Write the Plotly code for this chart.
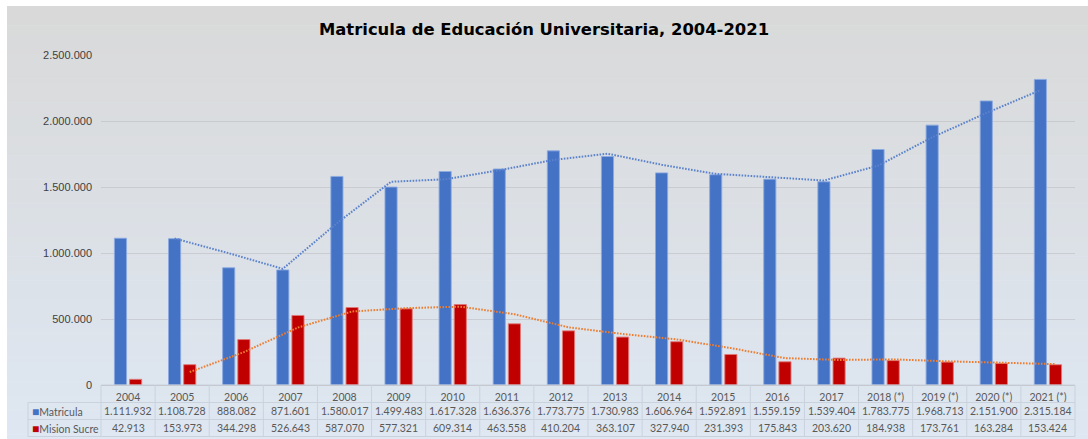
import plotly.graph_objects as go
import pandas as pd

years = ["2004", "2005", "2006", "2007", "2008", "2009", "2010", "2011", "2012",
         "2013", "2014", "2015", "2016", "2017", "2018 (*)", "2019 (*)", "2020 (*)", "2021 (*)"]
matricula = [1111932, 1108728, 888082, 871601, 1580017, 1499483, 1617328, 1636376, 1773775,
             1730983, 1606964, 1592891, 1559159, 1539404, 1783775, 1968713, 2151900, 2315184]
mision_sucre = [42913, 153973, 344298, 526643, 587070, 577321, 609314, 463558, 410204,
                363107, 327940, 231393, 175843, 203620, 184938, 173761, 163284, 153424]

BLUE = "#4472C4"
RED = "#C00000"
ORANGE = "#ED7D31"

# 2-period moving average trendlines (as in the original chart)
ma_mat = pd.Series(matricula).rolling(2).mean().tolist()
ma_suc = pd.Series(mision_sucre).rolling(2).mean().tolist()
ma_mat = [None if pd.isna(v) else v for v in ma_mat]
ma_suc = [None if pd.isna(v) else v for v in ma_suc]

W, H = 1088, 439
L, R, T, B = 101, 13, 55, 54
PW, PH = W - L - R, H - T - B
Y0 = H - B  # pixel y of axis
BARGAP = 0.44
idx = list(range(len(years)))
slot = (1 - BARGAP) / 2          # width of one bar slot in category units
pos_a = [i - slot / 2 for i in idx]  # centre of first bar in each group
pos_b = [i + slot / 2 for i in idx]  # centre of second bar in each group


def py(y):
    return (Y0 - y) / PH


def px(x):
    return (x - L) / PW


def fmt(v):
    return f"{v:,}".replace(",", ".")


fig = go.Figure()
fig.add_bar(x=idx, y=matricula, name="Matricula", marker_color=BLUE,
            marker_line=dict(color="rgba(140,170,225,0.9)", width=1))
fig.add_bar(x=idx, y=mision_sucre, name="Mision Sucre", marker_color=RED,
            marker_line=dict(color="rgba(225,120,120,0.9)", width=1))
fig.add_scatter(x=pos_a, y=ma_mat, mode="lines",
                line=dict(color="#5B82CC", width=2, dash="1.6px,1.4px"), showlegend=False,
                hoverinfo="skip")
fig.add_scatter(x=pos_b, y=ma_suc, mode="lines",
                line=dict(color=ORANGE, width=2, dash="1.6px,1.4px"), showlegend=False,
                hoverinfo="skip")

shapes = []
# gradient background
n = 90
top_c = (217, 217, 217)
bot_c = (222, 231, 242)
ytop, ybot = 6, H
for i in range(n):
    t = i / (n - 1)
    c = tuple(round(top_c[k] + (bot_c[k] - top_c[k]) * t) for k in range(3))
    y1 = ytop + (ybot - ytop) * i / n
    y2 = ytop + (ybot - ytop) * (i + 1) / n + 0.6
    shapes.append(dict(type="rect", xref="paper", yref="paper", layer="below",
                       x0=px(7), x1=px(W + 2), y0=py(y2), y1=py(y1),
                       fillcolor=f"rgb{c}", line=dict(width=0)))

# data table grid
GRID = "#c9d2dd"
row_lines = [Y0, 402.5, 419.5, 436.5]
for j, yy in enumerate(row_lines):
    x0 = L if j == 0 else 28
    shapes.append(dict(type="line", xref="paper", yref="paper", x0=px(x0), x1=px(W - R),
                       y0=py(yy), y1=py(yy), line=dict(color=GRID, width=1)))
ncat = len(years)
for i in range(ncat + 1):
    xx = L + PW * i / ncat
    shapes.append(dict(type="line", xref="paper", yref="paper", x0=px(xx), x1=px(xx),
                       y0=py(Y0), y1=py(436.5), line=dict(color=GRID, width=1)))
shapes.append(dict(type="line", xref="paper", yref="paper", x0=px(28), x1=px(28),
                   y0=py(402.5), y1=py(436.5), line=dict(color=GRID, width=1)))

annotations = []
TFONT = dict(family="Lato, Open Sans, sans-serif", size=10.5, color="#595959")
for i in range(ncat):
    annotations.append(dict(x=idx[i], y=py(411), xref="x", yref="paper", text=fmt(matricula[i]),
                            showarrow=False, font=TFONT, xanchor="center", yanchor="middle"))
    annotations.append(dict(x=idx[i], y=py(428), xref="x", yref="paper", text=fmt(mision_sucre[i]),
                            showarrow=False, font=TFONT, xanchor="center", yanchor="middle"))
annotations.append(dict(x=px(30), y=py(411), xref="paper", yref="paper",
                        text=f"<span style='color:{BLUE};font-size:12px'>■</span>Matricula",
                        showarrow=False, font=TFONT, xanchor="left", yanchor="middle"))
annotations.append(dict(x=px(30), y=py(428), xref="paper", yref="paper",
                        text=f"<span style='color:{RED};font-size:12px'>■</span>Mision Sucre",
                        showarrow=False, font=TFONT, xanchor="left", yanchor="middle"))

fig.update_layout(
    width=W, height=H,
    margin=dict(l=L, r=R, t=T, b=B),
    paper_bgcolor="white",
    plot_bgcolor="rgba(0,0,0,0)",
    separators=",.",
    barmode="group",
    bargap=BARGAP,
    bargroupgap=0.2,
    showlegend=False,
    title=dict(text="<b>Matricula de Educación Universitaria, 2004-2021</b>",
               x=0.5, xref="container", xanchor="center",
               y=1 - 29 / H, yref="container", yanchor="middle",
               font=dict(family="DejaVu Sans, sans-serif", size=16.4, color="#000000")),
    xaxis=dict(range=[-0.5, ncat - 0.5], tickmode="array", tickvals=idx, ticktext=years,
               showgrid=False, showline=True, linecolor="#c0c0c0", linewidth=1,
               ticks="", tickfont=TFONT, ticklabelstandoff=2, zeroline=False),
    yaxis=dict(range=[0, 2500000], dtick=500000, tickformat=",d", showgrid=True,
               gridcolor="rgba(180,180,185,0.45)", gridwidth=1, zeroline=False, showline=False,
               ticks="", ticklabelstandoff=8,
               tickfont=dict(family="Liberation Sans, Arial, sans-serif", size=11, color="#404040")),
    shapes=shapes,
    annotations=annotations,
)

fig.write_html("out.html", config={"displayModeBar": False},
               post_script="document.body.style.margin='0';")
